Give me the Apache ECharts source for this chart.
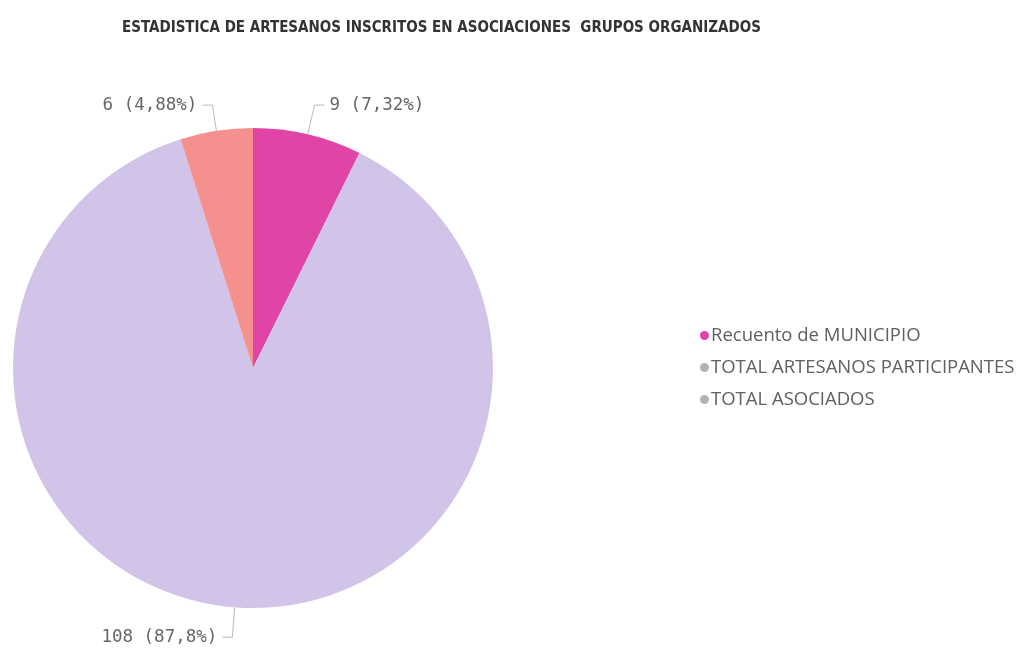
<!DOCTYPE html>
<html>
<head>
<meta charset="utf-8">
<script src="https://cdn.jsdelivr.net/npm/echarts@6/dist/echarts.min.js"></script>
<style>
  html, body { margin: 0; padding: 0; background: #fff; }
  #chart { width: 1025px; height: 648px; }
</style>
</head>
<body>
<div id="chart"></div>
<script>
const titleText = 'ESTADISTICA DE ARTESANOS INSCRITOS EN ASOCIACIONES  GRUPOS ORGANIZADOS'
const sliceNames = ['Recuento de MUNICIPIO', 'TOTAL ARTESANOS PARTICIPANTES', 'TOTAL ASOCIADOS']
const sliceValues = [9, 108, 6]
const sliceColors = ['#e044a7', '#d2c3e8', '#f4918f']
const legendColors = ['#e044a7', '#b3b3b3', '#b3b3b3']
const lineLengths = [30, 30, 26]

const total = sliceValues.reduce((a, b) => a + b, 0)

// percentage with 3 significant digits and comma decimal
const fmtPct = (v) => {
  const p = Number((v / total * 100).toPrecision(3))
  return String(p).replace('.', ',') + '%'
}

const chart = echarts.init(document.getElementById('chart'), null, { renderer: 'canvas' })

chart.setOption({
  backgroundColor: '#fff',
  animation: false,
  title: {
    text: titleText,
    left: 117,
    top: 16,
    textStyle: {
      fontFamily: 'DejaVu Sans Condensed',
      fontWeight: 'bold',
      fontSize: 15,
      color: '#333',
    },
  },
  legend: {
    orient: 'vertical',
    left: 695,
    top: 319,
    itemWidth: 9,
    itemHeight: 9,
    itemGap: 9,
    icon: 'circle',
    textStyle: {
      fontFamily: 'Open Sans',
      fontSize: 18.5,
      lineHeight: 23,
      color: '#606060',
      padding: [0, 0, 0, -3],
    },
    data: sliceNames.map((name, i) => ({
      name,
      itemStyle: { color: legendColors[i] },
    })),
  },
  series: [
    {
      type: 'pie',
      center: [253, 368],
      radius: [0, 240],
      startAngle: 90,
      clockwise: true,
      avoidLabelOverlap: false,
      data: sliceNames.map((name, i) => ({
        name,
        value: sliceValues[i],
        itemStyle: { color: sliceColors[i] },
        labelLine: { length: lineLengths[i] },
      })),
      label: {
        show: true,
        position: 'outside',
        fontFamily: 'DejaVu Sans Mono',
        fontSize: 17.5,
        color: '#666',
        formatter: (p) => `${p.value} (${fmtPct(p.value)})`,
      },
      labelLine: {
        show: true,
        length: 30,
        length2: 10,
        lineStyle: { color: '#bbb', width: 1 },
      },
      emphasis: { disabled: true },
    },
  ],
})
</script>
</body>
</html>
